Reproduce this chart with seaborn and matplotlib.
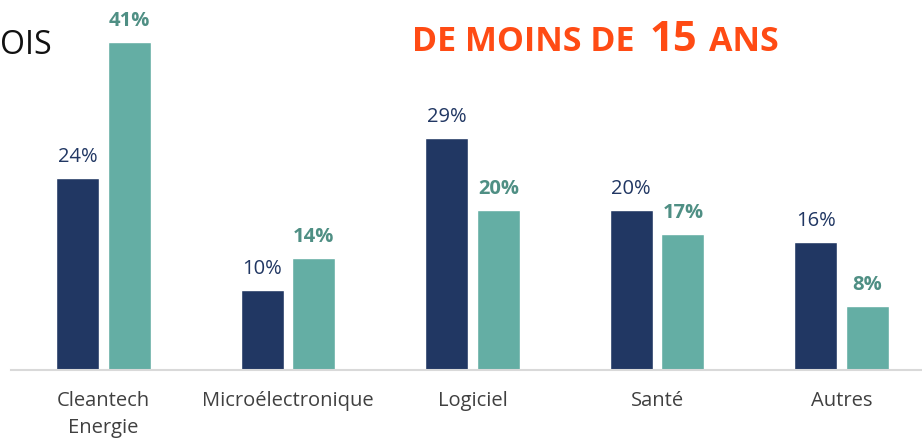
import matplotlib
matplotlib.use("Agg")
import matplotlib.pyplot as plt
import seaborn as sns
import pandas as pd

categories = ["Cleantech\nEnergie", "Microélectronique", "Logiciel", "Santé", "Autres"]
series_names = ["Ensemble", "Moins de 15 ans"]
values_all = [24, 10, 29, 20, 16]
values_young = [41, 14, 20, 17, 8]

NAVY = "#213763"
TEAL = "#64AEA4"
TEAL_TXT = "#4F8F84"
ORANGE = "#FF4B14"

sns.set_theme(style="white")
plt.rcParams["font.family"] = ["Open Sans", "DejaVu Sans"]

df = pd.DataFrame({
    "cat": categories * 2,
    "serie": [series_names[0]] * 5 + [series_names[1]] * 5,
    "val": values_all + values_young,
})

W, H = 922, 441
fig = plt.figure(figsize=(W / 100, H / 100), dpi=100)
ax = fig.add_axes([11 / W, 71 / H, 923 / W, 370 / H])

sns.barplot(data=df, x="cat", y="val", hue="serie", order=categories,
            hue_order=series_names, palette=[NAVY, TEAL], width=0.56, gap=0.17,
            saturation=1, legend=False, ax=ax)

ax.set_xlim(-0.5, 4.5)
ax.set_ylim(0, 46.3)
ax.set_xlabel("")
ax.set_ylabel("")
ax.set_yticks([])
for s in ["top", "right", "left"]:
    ax.spines[s].set_visible(False)
ax.spines["bottom"].set_color("#D9D9D9")
ax.spines["bottom"].set_linewidth(1.5)
ax.tick_params(axis="x", length=0, pad=15, labelsize=14.5, colors="#404040")
for lab in ax.get_xticklabels():
    lab.set_linespacing(1.45)

cont_all, cont_young = ax.containers[0], ax.containers[1]
ax.bar_label(cont_all, labels=[f"{v}%" for v in values_all], padding=8,
             color=NAVY, fontsize=14.5)
ax.bar_label(cont_young, labels=[f"{v}%" for v in values_young], padding=8,
             color=TEAL_TXT, fontsize=14.5, fontweight="bold")

# Partial headings (cropped in the reference)
fig.text(0, 1 - 46 / H, "OIS", ha="left", va="center",
         fontsize=23, color="#111111")
fig.text(412 / W, 1 - 51 / H, "DE MOINS DE", ha="left", va="baseline",
         fontsize=24.5, fontweight="bold", color=ORANGE)
fig.text(650 / W, 1 - 51 / H, "15", ha="left", va="baseline",
         fontsize=30, fontweight="bold", color=ORANGE)
fig.text(709 / W, 1 - 51 / H, "ANS", ha="left", va="baseline",
         fontsize=24.5, fontweight="bold", color=ORANGE)

fig.savefig("out.png", dpi=100, facecolor="white")
